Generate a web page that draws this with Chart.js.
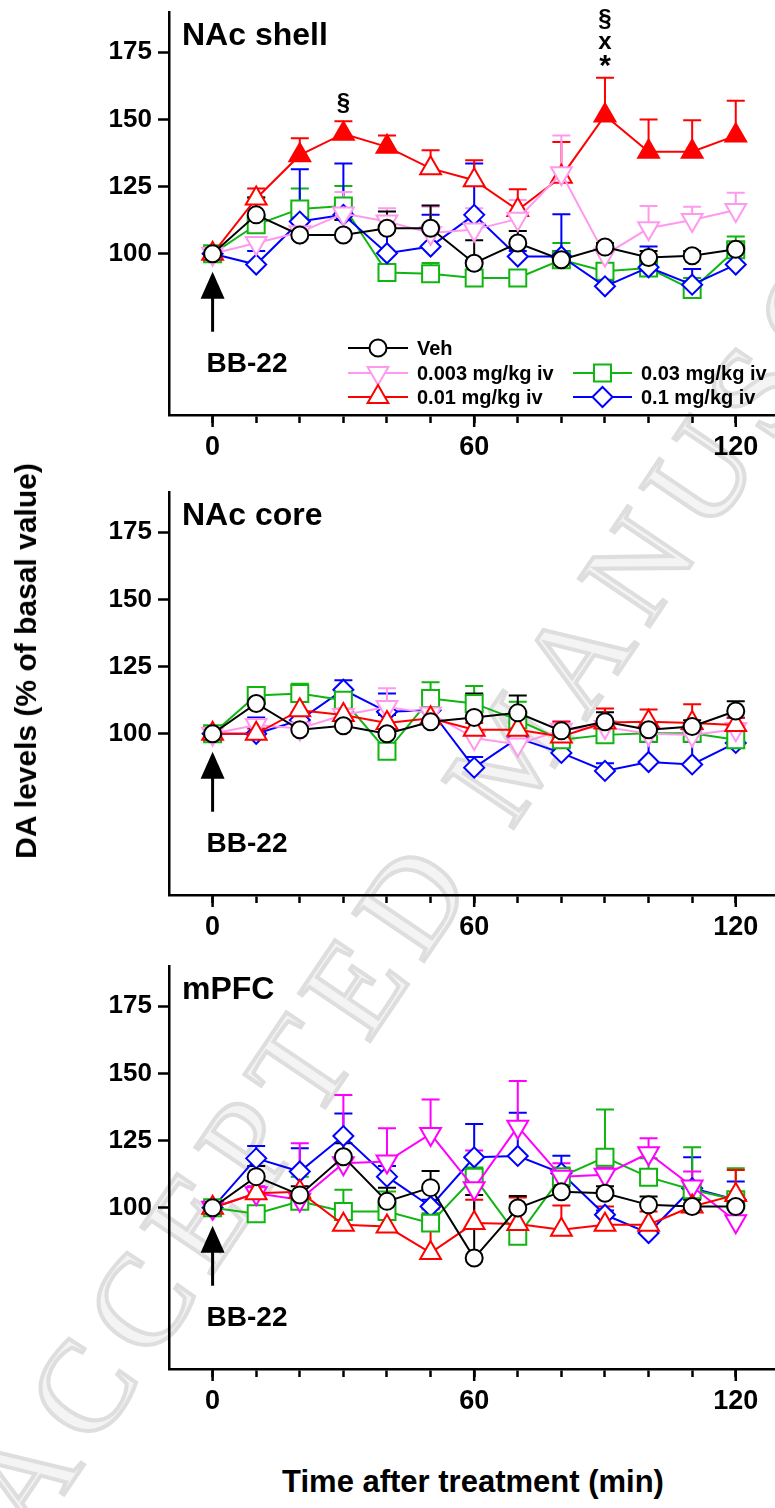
<!DOCTYPE html>
<html>
<head>
<meta charset="utf-8">
<script src="https://cdn.jsdelivr.net/npm/chart.js@4.4.0/dist/chart.umd.min.js"></script>
<style>
  body { margin: 0; background: #fff; width: 775px; height: 1508px; position: relative; overflow: hidden;
         font-family: "Liberation Sans", Arial, sans-serif; }
  canvas { position: absolute; left: 0; z-index: 1; }
  .title { position: absolute; font-weight: bold; font-size: 30px; white-space: nowrap; color: #000; z-index: 2; }
  #ytitle { left: 26px; top: 661px; transform: translate(-50%, -50%) rotate(-90deg); }
  #xtitle { left: 473px; top: 1482px; transform: translate(-50%, -50%); font-size: 31px; }
  #stamp { position: absolute; left: 517px; top: 744px; z-index: 0; white-space: nowrap;
           font-family: "Liberation Serif", "DejaVu Serif", serif; font-size: 130px; letter-spacing: 17px;
           color: #f4f4f4; -webkit-text-stroke: 4px #dedede;
           transform: translate(-50%, -50%) rotate(-56deg); }
</style>
</head>
<body>
<div id="stamp">ACCEPTED MANUSCRIPT</div>
<canvas id="shell" width="775" height="474" style="top:0px"></canvas>
<canvas id="core" width="775" height="474" style="top:480px"></canvas>
<canvas id="mpfc" width="775" height="474" style="top:954px"></canvas>
<div class="title" id="ytitle">DA levels (% of basal value)</div>
<div class="title" id="xtitle">Time after treatment (min)</div>

<script>
// time points (min)
const times = [0, 10, 20, 30, 40, 50, 60, 70, 80, 90, 100, 110, 120];
const yTicks = [100, 125, 150, 175];
const xLabels = [0, 60, 120];
const doses = ['Veh', '0.003 mg/kg iv', '0.01 mg/kg iv', '0.03 mg/kg iv', '0.1 mg/kg iv'];

// NAc shell: means and top of SEM bars
const veh1 = [100, 114.5, 107, 107, 109.5, 109.5, 96.5, 104, 97.8, 102.5, 98.6, 99.3, 101.7];
const vehErr1 = [100, 121, 113, 112.6, 115.7, 118, 105, 108.5, 101, 104, 101, 101, 104];
const d003_1 = [100, 104, 108, 115, 112, 107.7, 109, 113, 130, 99.6, 109.5, 112.6, 116.3];
const d003Err1 = [100, 106, 112, 123, 117, 117.5, 117, 120, 144, 102, 117.8, 117.5, 122.7];
const d001_1 = [100, 120.6, 136.7, 144.7, 139.8, 131.8, 127.4, 116.3, 128.7, 151.5, 138, 138, 144];
const d001Err1 = [100, 124.3, 143, 149.3, 144, 138.5, 134.8, 124, 141.6, 165.5, 150, 149.7, 157];
const d001Sig1 = [false, false, true, true, true, false, false, false, false, true, true, true, true];
const d03_1 = [100, 110.8, 116.7, 117.8, 93, 92.6, 91, 91, 97.8, 93.5, 94.7, 86.7, 101.5];
const d03Err1 = [100, 121, 124.3, 125.2, 96, 96.6, 93, 93, 104, 96, 97, 91, 106.4];
const d01_1 = [100, 96, 112, 114.5, 100.2, 102.7, 114.5, 99, 99, 87.9, 95, 88.5, 96];
const d01Err1 = [100, 101, 131.5, 133.6, 113, 114.5, 133.6, 101, 114.7, 90, 102.7, 94.3, 99];

// NAc core
const veh2 = [100, 111.3, 101.5, 103, 100, 104.5, 106.1, 107.8, 101.1, 104.5, 101.5, 102.7, 108.5];
const vehErr2 = [100, 117.2, 106.6, 108, 107, 114.6, 115, 114.3, 103, 108, 104, 105, 112.1];
const d003_2 = [100, 103.3, 102, 107, 110, 107.6, 98.4, 96, 101.5, 102.5, 100, 99.6, 101.7];
const d003Err2 = [100, 105, 105, 111, 117, 112, 101, 99, 104.8, 105, 103, 102, 104];
const d001_2 = [100, 100, 108.8, 107, 104, 105.8, 101.5, 101.5, 99, 104.2, 104.5, 104, 103.3];
const d001Err2 = [100, 102, 111.9, 109.4, 107, 109, 104, 104, 104.5, 109.4, 109, 111, 106];
const d03_2 = [100, 114.3, 115, 112.5, 93.5, 113.1, 111.3, 105.1, 97.8, 99.6, 100.2, 100.2, 97.8];
const d03Err2 = [100, 117.2, 118.6, 116.8, 108.6, 119.2, 117.8, 111.9, 100, 102, 102, 103, 101];
const d01_2 = [100, 100, 105.1, 116.4, 108.2, 108.8, 87.4, 98.4, 92.9, 86.2, 89.5, 88.6, 96.6];
const d01Err2 = [100, 106.1, 108, 119.9, 115, 115.6, 91.4, 101, 95, 89, 97, 97, 106];

// mPFC
const veh3 = [100, 111.6, 104.8, 119, 102.4, 107.5, 81.3, 99.9, 106, 105.4, 101.1, 100.5, 100.5];
const vehErr3 = [100, 115.6, 108, 124, 107.5, 113.7, 104.8, 104.4, 108, 108, 104.2, 103, 103];
const d003_3 = [100, 105.4, 103, 116.6, 117.2, 127.5, 107.3, 130.2, 111.6, 112.3, 120.3, 107.9, 95];
const d003Err3 = [100, 108, 124, 142, 129.6, 140.3, 121.3, 147.2, 116.6, 115, 125.9, 113.5, 100];
const d001_3 = [100, 105.4, 106, 93.7, 93, 83.2, 94.3, 94, 91.8, 93.7, 93.7, 100.5, 104.8];
const d001Err3 = [100, 107, 112.9, 98.6, 99.3, 99.5, 103, 103.8, 100.9, 100.5, 98.6, 109.2, 114.1];
const d03_3 = [100, 97.8, 102.4, 98.6, 98.6, 94.3, 111.4, 89.4, 111.6, 118.8, 111.4, 106.7, 103];
const d03Err3 = [100, 107.9, 111.6, 106.7, 106.1, 98, 115, 92, 115, 136.6, 118.4, 122.5, 114.7];
const d01_3 = [100, 118.4, 113.5, 126.7, 111.6, 100.5, 118.8, 119.3, 112.9, 97.4, 90.6, 107.3, 103];
const d01Err3 = [100, 123, 122.2, 135.1, 115.6, 103, 131.2, 135.4, 119.4, 99, 93, 118.8, 109.8];

// significance marks in NAc shell: [time, value, symbol, font size]
const sigMarks = [[30, 156, '§', 24], [90, 187.4, '§', 24], [90, 178.6, 'x', 24], [90, 169.5, '*', 30]];
// BB-22 injection arrow (value range) and label
const arrowTail = 71, arrowTip = 93.3, arrowLabelY = 56;

const FONT = '"Liberation Sans", Arial, sans-serif';
Chart.defaults.font.family = FONT;
Chart.defaults.color = '#000';

const styles = {
  veh:  { color: '#000000', shape: 'circle', r: 8.5, rot: 0 },
  d003: { color: '#ff99ee', shape: 'triangle', r: 12, rot: 180 },
  d001: { color: '#ff0000', shape: 'triangle', r: 12, rot: 0 },
  d03:  { color: '#11b511', shape: 'rect', r: 12, rot: 0 },
  d01:  { color: '#0000ff', shape: 'rectRot', r: 10, rot: 0 }
};

function drawMarker(ctx, shape, x, y, r, rot, stroke, fill) {
  ctx.save();
  ctx.translate(x, y);
  ctx.rotate(rot * Math.PI / 180);
  ctx.beginPath();
  if (shape === 'circle') {
    ctx.arc(0, 0, r, 0, Math.PI * 2);
  } else if (shape === 'triangle') {
    for (let k = 0; k < 3; k++) {
      const a = k * 2 * Math.PI / 3;
      ctx.lineTo(Math.sin(a) * r, -Math.cos(a) * r);
    }
    ctx.closePath();
  } else if (shape === 'rect') {
    const s = r * Math.SQRT1_2;
    ctx.rect(-s, -s, 2 * s, 2 * s);
  } else {
    ctx.moveTo(-r, 0); ctx.lineTo(0, -r); ctx.lineTo(r, 0); ctx.lineTo(0, r); ctx.closePath();
  }
  ctx.fillStyle = fill; ctx.fill();
  ctx.strokeStyle = stroke; ctx.lineWidth = 2; ctx.stroke();
  ctx.restore();
}

function series(label, key, values, errors, color, filled) {
  const s = styles[key];
  const c = color || s.color;
  return {
    label: label,
    data: times.map((t, i) => ({ x: t, y: values[i] })),
    errors: errors,
    borderColor: c,
    borderWidth: 2,
    pointStyle: s.shape,
    pointRadius: s.r,
    pointRotation: s.rot,
    pointBorderWidth: 2,
    pointBorderColor: c,
    pointBackgroundColor: filled ? filled.map(f => f ? c : '#fff') : '#fff',
    tension: 0
  };
}

const errorBars = {
  id: 'errorBars',
  beforeDatasetsDraw(chart) {
    const ctx = chart.ctx, y = chart.scales.y;
    for (let i = chart.data.datasets.length - 1; i >= 0; i--) {
      const ds = chart.data.datasets[i];
      const meta = chart.getDatasetMeta(i);
      ctx.save();
      ctx.strokeStyle = ds.borderColor;
      ctx.lineWidth = 2;
      meta.data.forEach((pt, j) => {
        const top = y.getPixelForValue(ds.errors[j]);
        if (pt.y - top < 2) return;
        ctx.beginPath();
        ctx.moveTo(pt.x, pt.y); ctx.lineTo(pt.x, top);
        ctx.moveTo(pt.x - 9, top); ctx.lineTo(pt.x + 9, top);
        ctx.stroke();
      });
      ctx.restore();
    }
  }
};

const deco = {
  id: 'deco',
  afterDraw(chart, args, opts) {
    const { ctx, chartArea } = chart;
    const x = chart.scales.x, y = chart.scales.y;
    ctx.save();
    ctx.fillStyle = '#000';
    ctx.strokeStyle = '#000';
    // panel title
    ctx.font = 'bold 32px ' + FONT;
    ctx.textAlign = 'left';
    ctx.textBaseline = 'alphabetic';
    ctx.fillText(opts.title, chartArea.left + 13, chartArea.top + 33);
    // longer ticks at labelled times
    ctx.lineWidth = 2.5;
    xLabels.forEach(v => {
      const px = x.getPixelForValue(v);
      ctx.beginPath(); ctx.moveTo(px, chartArea.bottom); ctx.lineTo(px, chartArea.bottom + 12); ctx.stroke();
    });
    // injection arrow
    const ax = x.getPixelForValue(0);
    const tip = y.getPixelForValue(arrowTip), tail = y.getPixelForValue(arrowTail);
    ctx.lineWidth = 3;
    ctx.beginPath(); ctx.moveTo(ax, tail); ctx.lineTo(ax, tip + 20); ctx.stroke();
    ctx.beginPath(); ctx.moveTo(ax, tip); ctx.lineTo(ax - 12, tip + 27); ctx.lineTo(ax + 12, tip + 27); ctx.closePath(); ctx.fill();
    ctx.font = 'bold 28px ' + FONT;
    ctx.fillText('BB-22', ax - 6, y.getPixelForValue(arrowLabelY));
    // significance marks
    if (opts.marks) {
      ctx.textAlign = 'center';
      ctx.textBaseline = 'middle';
      opts.marks.forEach(m => {
        ctx.font = 'bold ' + m[3] + 'px ' + FONT;
        ctx.fillText(m[2], x.getPixelForValue(m[0]), y.getPixelForValue(m[1]));
      });
    }
    // legend
    if (opts.legend) {
      const ds = chart.data.datasets;
      const rows = [[0, 348, 0], [1, 373, 0], [2, 397, 0], [3, 373, 1], [4, 397, 1]];
      const colX = [[348, 408, 417], [573, 632, 641]];
      ctx.font = 'bold 20px ' + FONT;
      ctx.textAlign = 'left';
      ctx.textBaseline = 'middle';
      rows.forEach(([i, ry, col]) => {
        const d = ds.find(e => e.label === doses[i]);
        const [x0, x1, tx] = colX[col];
        ctx.strokeStyle = d.borderColor; ctx.lineWidth = 2;
        ctx.beginPath(); ctx.moveTo(x0, ry); ctx.lineTo(x1, ry); ctx.stroke();
        drawMarker(ctx, d.pointStyle, (x0 + x1) / 2, ry, d.pointRadius, d.pointRotation, d.borderColor, '#fff');
        ctx.fillStyle = '#000';
        ctx.fillText(d.label, tx, ry + 1);
      });
    }
    ctx.restore();
  }
};

function makePanel(id, title, sets, extra) {
  return new Chart(document.getElementById(id), {
    type: 'line',
    data: { datasets: sets },
    plugins: [errorBars, deco],
    options: {
      responsive: false,
      animation: false,
      layout: { autoPadding: false, padding: { top: 12, left: 0, right: 0, bottom: 0 } },
      plugins: {
        legend: { display: false },
        tooltip: { enabled: false },
        deco: Object.assign({ title: title }, extra)
      },
      scales: {
        x: {
          type: 'linear', min: -10, max: 129,
          afterBuildTicks: s => { s.ticks = times.map(v => ({ value: v })); },
          afterFit: s => { s.height = 59; s.paddingLeft = 0; s.paddingRight = 0; },
          ticks: {
            font: { size: 27, weight: 'bold' }, color: '#000', padding: 8, maxRotation: 0, autoSkip: false,
            callback: v => xLabels.includes(v) ? String(v) : ''
          },
          grid: { drawOnChartArea: false, tickLength: 8, tickColor: '#000', tickWidth: 2.5 },
          border: { color: '#000', width: 2.5 }
        },
        y: {
          type: 'linear', min: 40, max: 190,
          afterBuildTicks: s => { s.ticks = yTicks.map(v => ({ value: v })); },
          afterFit: s => { s.width = 169; s.paddingTop = 0; s.paddingBottom = 0; },
          ticks: { font: { size: 26, weight: 'bold' }, color: '#000', padding: 6 },
          grid: { drawOnChartArea: false, tickLength: 11, tickColor: '#000', tickWidth: 2.5 },
          border: { color: '#000', width: 2.5 }
        }
      }
    }
  });
}

makePanel('shell', 'NAc shell', [
  series(doses[0], 'veh', veh1, vehErr1),
  series(doses[1], 'd003', d003_1, d003Err1),
  series(doses[2], 'd001', d001_1, d001Err1, null, d001Sig1),
  series(doses[4], 'd01', d01_1, d01Err1),
  series(doses[3], 'd03', d03_1, d03Err1)
], { legend: true, marks: sigMarks });

makePanel('core', 'NAc core', [
  series(doses[0], 'veh', veh2, vehErr2),
  series(doses[2], 'd001', d001_2, d001Err2),
  series(doses[1], 'd003', d003_2, d003Err2),
  series(doses[3], 'd03', d03_2, d03Err2),
  series(doses[4], 'd01', d01_2, d01Err2)
], {});

makePanel('mpfc', 'mPFC', [
  series(doses[0], 'veh', veh3, vehErr3),
  series(doses[2], 'd001', d001_3, d001Err3),
  series(doses[1], 'd003', d003_3, d003Err3, '#ff00ff'),
  series(doses[3], 'd03', d03_3, d03Err3),
  series(doses[4], 'd01', d01_3, d01Err3)
], {});
</script>
</body>
</html>
